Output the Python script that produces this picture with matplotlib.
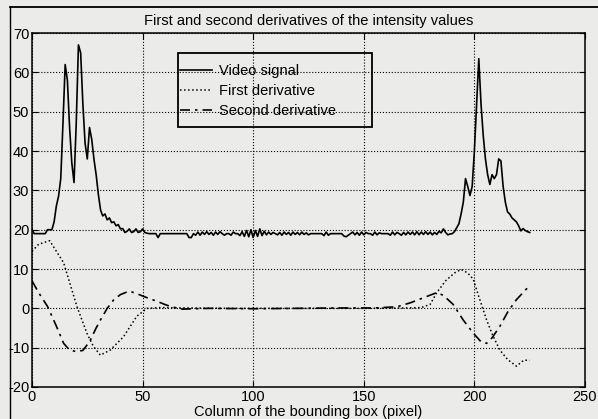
import numpy as np
import matplotlib
matplotlib.use("Agg")
import matplotlib.pyplot as plt
from matplotlib.lines import Line2D
from matplotlib.patches import Rectangle

plt.rcParams["font.family"] = ["Liberation Sans", "DejaVu Sans"]
plt.rcParams["axes.unicode_minus"] = False

# ---- data ----
video_y = [
    20, 19, 19, 19, 19, 19, 19, 20, 20, 20,            # 0-9
    22, 26, 28.5, 33, 47, 62, 58, 46, 37, 32,          # 10-19
    47, 67, 65, 52, 42, 38, 46, 43, 38, 34,            # 20-29
    29, 25, 23.5, 24, 22.5, 23, 21.8, 22, 21, 21.3,    # 30-39
    20.2, 20.3, 19.3, 19.6, 20.2, 19.3, 19.5, 20.2, 19.3, 19.5,  # 40-49
    20.2, 19.3, 19.1, 19, 19, 19, 19, 18, 19, 19,      # 50-59
    19, 19, 19, 19, 19, 19, 19, 19, 19, 19,            # 60-69
    19, 18, 18, 19, 18.6, 19.4, 18.6, 19.4, 18.8, 19.5,  # 70-79
    18.8, 19.3, 18.6, 19.4, 18.8, 19.5, 19, 18.6, 19, 19,  # 80-89
    18.6, 19.4, 19, 19, 18.5, 19.5, 18.3, 19.8, 18.2, 20,  # 90-99
    18, 19.8, 18.3, 20.2, 18.5, 19.6, 18.7, 19.4, 18.8, 19.3,  # 100-109
    19, 18.7, 19.3, 18.6, 19.4, 18.8, 19.3, 18.6, 19.4, 18.8,  # 110-119
    19.3, 18.7, 19.4, 18.8, 19.2, 18.7, 19, 19, 19, 19,  # 120-129
    19, 19, 18.5, 19.4, 18.6, 19, 19, 19, 19, 19,      # 130-139
    19, 18.4, 18.2, 18.6, 19, 19.4, 18.7, 19.3, 18.6, 19.4,  # 140-149
    18.7, 19.3, 19, 19, 18.6, 19.4, 18.7, 19.2, 19, 19,  # 150-159
    19, 19, 18.6, 19.4, 18.7, 19.3, 19, 18.6, 19.3, 18.7,  # 160-169
    19.4, 18.8, 19.4, 18.7, 19.5, 18.7, 19.4, 18.8, 19.5, 18.8,  # 170-179
    19.4, 18.7, 19.3, 18.8, 19.6, 19.2, 20.2, 19.3, 18.7, 18.9,  # 180-189
    19, 19.5, 20.5, 21.5, 24, 27, 33, 31, 28.7, 31,    # 190-199
    40, 52, 63.5, 52, 44, 38, 34, 31.5, 34, 33,        # 200-209
    34, 38, 37.5, 31, 27, 24.5, 24, 23, 22.5, 22,      # 210-219
    21, 19.7, 20.3, 19.8, 19.5, 19.3,                  # 220-225
]
video_x = np.arange(len(video_y))

first_x = [0, 3, 8, 14.3, 20.3, 24.8, 27.8, 30.9, 35.4, 41.4, 47.4, 52, 58, 70,
           90, 110, 130, 150, 170, 176, 180, 183, 187, 191, 194, 197, 199.5,
           202, 205.5, 208, 211.5, 215, 219, 222.3, 225]
first_y = [14.5, 16.3, 17.2, 11.6, 0.5, -6.3, -9.7, -11.9, -10.6, -7.2, -2, 0, 0.2, 0.1,
           0, 0, 0, 0, 0.1, 0.2, 1, 4, 7, 9, 9.9, 9, 7.4,
           3, -2.9, -6.5, -10.6, -13, -14.7, -13.2, -13.2]

second_x = [0, 3, 7, 11, 14.3, 17, 20, 23, 26, 29, 31, 34, 37, 40, 44, 48, 52,
            56.5, 60, 63, 68, 80, 100, 120, 140, 155, 165, 171, 177, 183, 186,
            190.4, 195, 199.5, 203, 205.5, 208, 211.5, 215, 219, 222, 225]
second_y = [7, 4, 0.5, -4.5, -8.9, -10.6, -11, -10.7, -8.5, -5, -2.9, 0, 2.2, 3.5, 4.4, 3.6, 2.7,
            1.8, 1, 0.4, -0.2, 0, -0.1, 0, 0.1, 0.1, 0.4, 1.4, 2.7, 4, 3.3,
            1, -3, -6.3, -8.5, -8.9, -7.5, -4.6, -1, 2.2, 4, 5.8]

BG = "#ebebe9"
FS = 10.5
fig = plt.figure(figsize=(5.98, 4.19), dpi=100, facecolor=BG)
ax = fig.add_axes([0.0535, 0.0764, 0.9247, 0.8446], facecolor=BG)

ax.plot(video_x, video_y, color="black", linewidth=1.2, label="Video signal")
ax.plot(first_x, first_y, color="black", linewidth=1.1, linestyle=":", label="First derivative")
ax.plot(second_x, second_y, color="black", linewidth=1.2, linestyle=(0, (6, 3, 1.5, 3)),
        label="Second derivative")

ax.set_xlim(0, 250)
ax.set_ylim(-20, 70)
ax.set_xticks(np.arange(0, 251, 50))
ax.set_yticks(np.arange(-20, 71, 10))
ax.grid(True, color="black", linestyle=":", linewidth=0.8)
ax.tick_params(direction="in", top=True, right=True, length=4, labelsize=FS, pad=2)
for s in ax.spines.values():
    s.set_linewidth(1.1)

ax.set_title("First and second derivatives of the intensity values", fontsize=FS, pad=6)
ax.set_xlabel("Column of the bounding box (pixel)", fontsize=FS, labelpad=1)

# legend: transparent box (grid shows through), like the MATLAB original
ax.add_patch(Rectangle((146 / 553, 260 / 354), 194 / 553, 74 / 354, transform=ax.transAxes,
                       fill=False, edgecolor="black", linewidth=1.3, zorder=5))
leg = ax.legend(loc="upper left", bbox_to_anchor=(148 / 553, 323 / 354), borderaxespad=0,
                fontsize=FS, handlelength=2.2, handletextpad=0.5, frameon=False,
                labelspacing=0.42, borderpad=0)

# frame of the scanned figure
fig.add_artist(Line2D([10 / 598, 1], [1 - 7 / 419, 1 - 7 / 419], transform=fig.transFigure,
                      color="black", linewidth=1.3))
fig.add_artist(Line2D([10 / 598, 10 / 598], [0, 1 - 7 / 419], transform=fig.transFigure,
                      color="black", linewidth=1.0))

fig.savefig("out.png", dpi=100, facecolor=BG)
